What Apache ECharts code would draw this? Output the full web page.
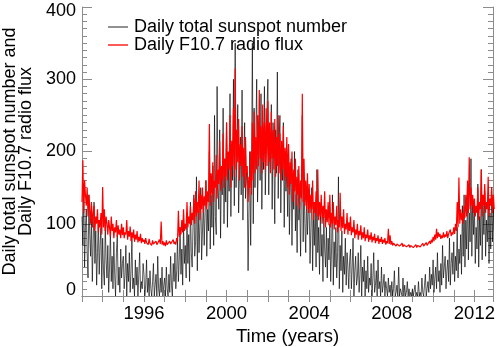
<!DOCTYPE html>
<html><head><meta charset="utf-8">
<script src="https://cdn.jsdelivr.net/npm/echarts@6/dist/echarts.min.js"></script>
<style>html,body{margin:0;padding:0;background:#fff}#c{width:500px;height:347px}</style>
</head><body><div id="c"></div>
<script>
// sampling: 24 samples per year starting 1993.0
const startYear = 1993;
const samplesPerYear = 24;
const xTicks = [1996, 2000, 2004, 2008, 2012];
const yTicks = [0, 100, 200, 300, 400];
const seriesNames = ['Daily total sunspot number', 'Daily F10.7 radio flux'];

const sunspot = [
/*1993*/110,70,150,40,95,120,60,25,140,85,55,110,20,75,130,45,90,15,60,105,30,70,95,10,
/*1994*/80,35,15,100,50,25,70,5,40,90,20,55,10,75,30,0,60,85,15,40,5,65,25,45,
/*1995*/55,10,30,70,0,45,20,60,5,35,80,10,25,0,50,15,40,0,30,60,5,20,10,45,
/*1996*/30,0,15,50,5,25,0,35,10,0,20,45,0,15,30,0,55,10,0,25,5,40,0,15,
/*1997*/25,0,40,10,0,30,5,55,15,0,45,20,60,10,35,80,20,50,95,30,65,15,100,45,
/*1998*/70,25,110,45,85,20,130,60,40,95,140,55,75,165,35,120,60,100,150,50,90,130,70,115,
/*1999*/160,55,120,90,200,65,140,95,180,70,250,110,85,290,150,120,230,80,170,140,260,100,190,130,
/*2000*/240,95,180,145,280,110,210,160,300,125,350,150,200,265,115,170,220,140,285,105,190,240,135,175,
/*2001*/150,35,120,200,70,180,350,100,260,150,220,300,130,190,250,160,280,120,230,175,290,140,205,260,
/*2002*/300,140,220,180,265,120,240,195,100,230,170,310,135,210,250,115,190,160,240,95,200,145,180,110,
/*2003*/210,85,150,190,70,165,120,200,90,140,60,175,105,130,55,150,250,75,160,100,60,140,85,120,
/*2004*/125,45,95,150,35,110,70,130,40,175,60,95,30,120,55,85,20,110,65,40,95,25,80,50,
/*2005*/100,20,65,140,15,75,40,95,25,60,165,10,70,35,90,5,55,30,80,15,60,40,10,50,
/*2006*/65,10,40,80,0,35,55,15,25,60,5,30,70,0,40,20,50,0,35,10,55,5,25,15,
/*2007*/45,0,25,60,5,15,35,0,50,10,20,0,40,5,15,30,0,20,10,0,25,5,15,0,
/*2008*/20,0,10,35,0,5,15,0,40,0,10,5,0,25,0,15,0,5,20,0,10,0,5,0,
/*2009*/10,0,0,15,0,5,0,20,0,5,0,25,5,0,15,30,0,10,20,5,40,10,30,15,
/*2010*/50,5,25,40,10,60,20,35,5,45,15,70,25,40,55,10,35,50,20,80,15,45,60,30,
/*2011*/75,20,55,35,95,25,65,45,85,30,125,55,140,40,105,65,150,50,115,75,190,55,135,85,
/*2012*/125,45,95,65,155,40,110,70,175,50,125,85,145,55,105,75,135,45,115,65,150,75,125,90
];

const f107 = [
/*1993*/130,188,115,160,140,125,150,110,140,120,100,130,95,115,125,90,110,100,120,88,105,95,115,85,
/*1994*/151,95,120,90,110,100,85,105,95,82,110,90,100,80,95,88,105,82,98,85,92,80,100,84,
/*1995*/95,80,88,85,105,78,90,82,96,76,88,80,92,75,85,78,90,74,82,76,86,73,80,75,
/*1996*/78,72,80,74,76,71,79,73,75,70,77,72,74,70,76,71,73,69,78,72,103,71,76,70,
/*1997*/74,69,77,71,73,70,76,72,74,70,78,72,75,71,80,76,118,82,95,85,105,88,120,90,
/*1998*/100,92,130,95,110,100,125,98,115,105,135,100,145,110,130,115,160,105,140,120,150,115,138,125,
/*1999*/160,120,145,130,238,125,170,140,185,130,160,150,195,135,175,155,215,145,180,160,225,150,190,165,
/*2000*/240,160,200,175,250,150,215,180,260,165,315,175,230,185,245,160,210,180,235,165,205,150,220,170,
/*2001*/180,130,165,150,200,140,240,160,255,170,220,175,250,180,285,190,235,170,265,185,240,175,260,180,
/*2002*/270,185,240,170,255,190,230,175,245,165,220,180,250,170,225,160,215,175,235,160,205,165,220,150,
/*2003*/210,140,185,155,200,130,175,145,190,125,165,140,180,120,160,135,280,130,190,125,160,120,170,115,
/*2004*/155,115,140,120,160,105,130,115,145,110,175,105,130,110,140,100,125,108,145,95,120,102,130,98,
/*2005*/140,95,115,100,130,92,110,98,125,88,105,95,143,90,110,94,120,86,100,92,115,85,102,90,
/*2006*/110,84,95,88,105,80,92,85,100,78,90,84,98,78,88,80,95,76,85,80,92,75,84,78,
/*2007*/88,74,82,77,86,73,80,76,84,72,79,75,82,72,78,74,80,71,76,73,93,72,84,71,
/*2008*/76,70,73,71,75,69,72,70,74,69,71,70,73,68,71,69,72,68,70,69,71,67,70,68,
/*2009*/70,67,69,68,71,67,70,68,72,68,70,69,73,69,71,70,74,70,72,71,76,72,78,74,
/*2010*/82,76,85,78,93,80,88,82,86,79,84,80,88,81,85,82,90,80,86,84,92,83,88,85,
/*2011*/95,86,100,90,130,95,164,100,120,105,115,100,125,108,140,110,160,115,192,120,150,125,140,115,
/*2012*/135,110,125,115,150,105,130,120,175,110,140,125,155,115,130,120,165,110,135,125,150,115,140,120
];

const toPairs = arr => arr.map((v, i) => [startYear + i / samplesPerYear, v]);

const FONT = 'Liberation Sans, Arial, sans-serif';
const AX = '#8c8c8c';
const chart = echarts.init(document.getElementById('c'), null, {renderer: 'canvas'});
chart.setOption({
  animation: false,
  backgroundColor: '#fff',
  grid: {left: 82, right: 7, top: 7, bottom: 51, containLabel: false, outerBoundsMode: 'none'},
  legend: {
    orient: 'vertical', left: 103, top: 13, itemGap: 0, itemWidth: 20, itemHeight: 1.3,
    icon: 'rect',
    textStyle: {fontFamily: FONT, fontSize: 18, color: '#000', lineHeight: 14, padding: [0, 0, 0, 1]},
    data: seriesNames
  },
  xAxis: [{
    type: 'value', min: 1993, max: 2012.9, interval: 1,
    name: 'Time (years)', nameLocation: 'middle', nameGap: 27,
    nameTextStyle: {fontFamily: FONT, fontSize: 18.5, color: '#000'},
    axisLine: {lineStyle: {color: AX}},
    axisTick: {inside: true, length: 6, lineStyle: {color: AX}},
    axisLabel: {fontFamily: FONT, fontSize: 18.5, color: '#000', margin: 8,
      showMinLabel: true, showMaxLabel: true,
      formatter: v => xTicks.includes(Math.round(v)) && Math.abs(v - Math.round(v)) < 1e-6 ? String(Math.round(v)) : ''},
    splitLine: {show: false}
  }, {
    type: 'value', min: 1993, max: 2012.9, interval: 1, position: 'top',
    axisLine: {lineStyle: {color: AX}},
    axisTick: {inside: true, length: 6, lineStyle: {color: AX}},
    axisLabel: {show: false}, splitLine: {show: false}
  }],
  yAxis: [{
    type: 'value', min: yTicks[0], max: yTicks[yTicks.length - 1], interval: 100,
    name: 'Daily total sunspot number and\nDaily F10.7 radio flux',
    nameLocation: 'middle', nameGap: 44, nameRotate: 90,
    nameTextStyle: {fontFamily: FONT, fontSize: 18, color: '#000', lineHeight: 16},
    axisLine: {show: true, lineStyle: {color: AX}},
    axisTick: {show: true, inside: true, length: 10, lineStyle: {color: AX}},
    minorTick: {show: true, splitNumber: 10, length: 5, lineStyle: {color: AX}},
    axisLabel: {fontFamily: FONT, fontSize: 18, color: '#000', margin: 6,
      formatter: v => v === yTicks[0] ? '{lo|' + v + '}' : (v === yTicks[yTicks.length - 1] ? '{hi|' + v + '}' : String(v)),
      rich: {
        lo: {fontFamily: FONT, fontSize: 18, color: '#000', padding: [0, 0, 12, 0]},
        hi: {fontFamily: FONT, fontSize: 18, color: '#000', padding: [8, 0, 0, 0]}
      }},
    splitLine: {show: false}
  }, {
    type: 'value', min: 0, max: 400, interval: 100, position: 'right',
    axisLine: {show: true, lineStyle: {color: AX}},
    axisTick: {show: true, inside: true, length: 10, lineStyle: {color: AX}},
    minorTick: {show: true, splitNumber: 10, length: 5, lineStyle: {color: AX}},
    axisLabel: {show: false}, splitLine: {show: false}
  }],
  series: [{
    name: seriesNames[0], type: 'line', data: toPairs(sunspot),
    symbol: 'none', showSymbol: false, clip: true,
    color: '#555',
    lineStyle: {color: '#000', width: 1, opacity: 0.65}
  }, {
    name: seriesNames[1], type: 'line', data: toPairs(f107),
    symbol: 'none', showSymbol: false, clip: true,
    color: '#ff0000',
    lineStyle: {color: '#ff0000', width: 1.2}
  }]
});
</script></body></html>
